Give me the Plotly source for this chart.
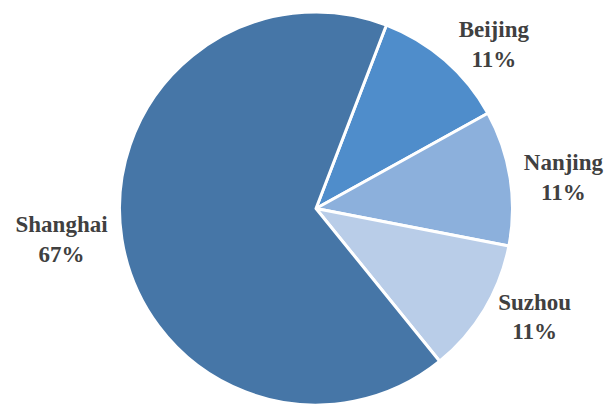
import plotly.graph_objects as go

labels = ["Beijing", "Nanjing", "Suzhou", "Shanghai"]
values = [1, 1, 1, 6]
colors = ["#4f8dcb", "#8cb0dc", "#b9cde8", "#4676a7"]

fig = go.Figure(go.Pie(
    labels=labels,
    values=values,
    sort=False,
    direction="clockwise",
    rotation=21,
    automargin=False,
    marker=dict(colors=colors, line=dict(color="white", width=3)),
    texttemplate="<b>%{label}</b><br><b>%{percent:.0%}</b>",
    textposition="outside",
    textfont=dict(family="Liberation Serif", size=23, color="#404040"),
    showlegend=False,
    hoverinfo="label+percent",
))
fig.update_layout(
    width=608, height=405,
    margin=dict(l=117, r=93, t=12, b=0, autoexpand=False),
    paper_bgcolor="white",
    plot_bgcolor="white",
)
fig.write_html("out.html")
